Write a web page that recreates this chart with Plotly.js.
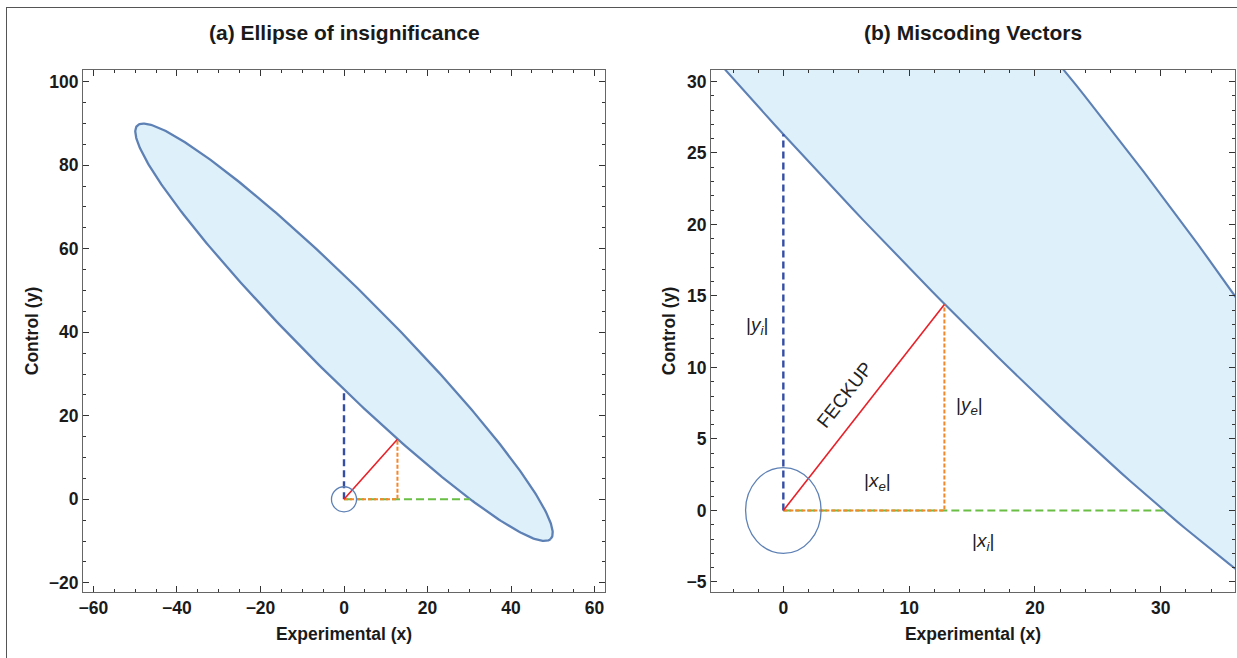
<!DOCTYPE html>
<html>
<head>
<meta charset="utf-8">
<script src="https://cdn.plot.ly/plotly-3.0.1.min.js"></script>
<style>
  html, body { margin:0; padding:0; background:#fff; }
  #wrap { position:relative; width:1237px; height:658px; }
  #plot { position:absolute; left:0; top:0; width:1237px; height:658px; }
  #frame { position:absolute; left:6px; top:7px; right:0; bottom:0;
           border-left:1px solid #555; border-top:1px solid #555; pointer-events:none; }
</style>
</head>
<body>
<div id="wrap"><div id="plot"></div><div id="frame"></div></div>
<script>
// ---- values ----
const ellipseCenter = [0, 40];          // centre of the ellipse of insignificance
const ellipseSemiAxes = [70, 9.78];     // semi-major, semi-minor
const ellipseAngleDeg = -45;            // orientation of the major axis
const circleRadius = 3;                 // small circle round the origin
const feckupPoint = [12.8, 14.4];       // nearest point of the ellipse (FECKUP vector tip)
const yInterceptPoint = [0, 26.3];      // |y_i|
const xInterceptPoint = [30.2, 0];      // |x_i|
const originPoint = [0, 0];

const panelTitles = ['(a) Ellipse of insignificance', '(b) Miscoding Vectors'];
const xAxisTitle = 'Experimental (x)';
const yAxisTitle = 'Control (y)';
const labelTexts = ['|<i>y<sub>i</sub></i>|', '|<i>y<sub>e</sub></i>|', '|<i>x<sub>e</sub></i>|', '|<i>x<sub>i</sub></i>|', 'FECKUP'];
const labelX = [-2.1, 14.8, 7.5, 15.9, 4.9];
const labelY = [12.9, 7.3, 2.0, -2.2, 8.1];

// ---- build ellipse outline from its parameters ----
function ellipseOutline(c, ax, angDeg, n) {
  const a = angDeg * Math.PI / 180, xs = [], ys = [];
  for (let i = 0; i <= n; i++) {
    const t = 2 * Math.PI * i / n;
    const u = ax[0] * Math.cos(t), v = ax[1] * Math.sin(t);
    xs.push(c[0] + u * Math.cos(a) - v * Math.sin(a));
    ys.push(c[1] + u * Math.sin(a) + v * Math.cos(a));
  }
  return [xs, ys];
}
const [ex, ey] = ellipseOutline(ellipseCenter, ellipseSemiAxes, ellipseAngleDeg, 400);

const C = {
  ellLine: 'rgb(94,129,181)', ellFill: 'rgb(222,240,250)',
  blue: 'rgb(52,78,165)', red: 'rgb(232,32,40)', orange: 'rgb(245,135,40)', green: 'rgb(106,190,68)'
};
const FONT = 'Liberation Sans, Arial, Helvetica, sans-serif';

function panelTraces(xa, ya, lw) {
  return [
    { x: ex, y: ey, xaxis: xa, yaxis: ya, mode: 'lines', fill: 'toself', fillcolor: C.ellFill,
      line: { color: C.ellLine, width: lw }, hoverinfo: 'skip' },
    { x: [originPoint[0], xInterceptPoint[0]], y: [originPoint[1], xInterceptPoint[1]], xaxis: xa, yaxis: ya,
      mode: 'lines', line: { color: C.green, width: 2, dash: '8px,4px' } },
    { x: [originPoint[0], yInterceptPoint[0]], y: [originPoint[1], yInterceptPoint[1]], xaxis: xa, yaxis: ya,
      mode: 'lines', line: { color: C.blue, width: 2.4, dash: '7px,4px' } },
    { x: [originPoint[0], feckupPoint[0], feckupPoint[0]], y: [originPoint[1], originPoint[1], feckupPoint[1]],
      xaxis: xa, yaxis: ya, mode: 'lines', line: { color: C.orange, width: 2, dash: '4px,2px' } },
    { x: [originPoint[0], feckupPoint[0]], y: [originPoint[1], feckupPoint[1]], xaxis: xa, yaxis: ya,
      mode: 'lines', line: { color: C.red, width: 1.6 } }
  ];
}
const data = [...panelTraces('x', 'y', 2.3), ...panelTraces('x2', 'y2', 2.1)];

function axis(domain, range, dtick, minor, extra) {
  return Object.assign({
    domain: domain, range: range, tickmode: 'linear', dtick: dtick, tick0: 0,
    ticks: 'inside', ticklen: 6, tickwidth: 1, tickcolor: '#333',
    minor: { dtick: minor, tick0: 0, ticks: 'inside', ticklen: 3, tickwidth: 1, tickcolor: '#333' },
    showline: true, linecolor: '#666', linewidth: 1, mirror: 'allticks',
    showgrid: false, zeroline: false, automargin: false,
    tickfont: { family: FONT, size: 17.5, weight: 'bold', color: '#1a1a1a' },
    fixedrange: true
  }, extra);
}
const W = 1237, H = 658;
const yDom = [(H - 592) / H, (H - 70) / H];
const xDom1 = [83 / W, 605 / W], xDom2 = [711 / W, 1235 / W];
const titleFont = { family: FONT, size: 17.5, weight: 'bold', color: '#1a1a1a' };

const layout = {
  width: W, height: H, margin: { l: 0, r: 0, t: 0, b: 0 },
  paper_bgcolor: '#fff', plot_bgcolor: '#fff', showlegend: false,
  xaxis: axis(xDom1, [-62.5, 62.5], 20, 5, { anchor: 'y', title: { text: xAxisTitle, font: titleFont, standoff: 10 } }),
  yaxis: axis(yDom, [-22.2, 102.8], 20, 5, { anchor: 'x', title: { text: yAxisTitle, font: titleFont, standoff: 5 } }),
  xaxis2: axis(xDom2, [-5.75, 35.9], 10, 2, { anchor: 'y2', title: { text: xAxisTitle, font: titleFont, standoff: 10 } }),
  yaxis2: axis(yDom, [-5.7, 30.8], 5, 1, { anchor: 'x2', title: { text: yAxisTitle, font: titleFont, standoff: 6 } }),
  shapes: [
    { type: 'circle', xref: 'x', yref: 'y', x0: -circleRadius, x1: circleRadius, y0: -circleRadius, y1: circleRadius,
      line: { color: C.ellLine, width: 1.3 } },
    { type: 'circle', xref: 'x2', yref: 'y2', x0: -circleRadius, x1: circleRadius, y0: -circleRadius, y1: circleRadius,
      line: { color: C.ellLine, width: 1.3 } }
  ],
  annotations: [
    { text: panelTitles[0], xref: 'paper', yref: 'paper', x: (xDom1[0] + xDom1[1]) / 2, y: (H - 32) / H,
      showarrow: false, xanchor: 'center', yanchor: 'middle', font: { family: FONT, size: 21, weight: 'bold', color: '#1a1a1a' } },
    { text: panelTitles[1], xref: 'paper', yref: 'paper', x: (xDom2[0] + xDom2[1]) / 2, y: (H - 32) / H,
      showarrow: false, xanchor: 'center', yanchor: 'middle', font: { family: FONT, size: 21, weight: 'bold', color: '#1a1a1a' } }
  ].concat(labelTexts.map((t, i) => ({
    text: t, xref: 'x2', yref: 'y2', x: labelX[i], y: labelY[i], showarrow: false,
    xanchor: 'center', yanchor: 'middle', textangle: i === 4 ? -52 : 0,
    font: { family: FONT, size: 19, color: '#222' }
  })))
};
Plotly.newPlot('plot', data, layout, { staticPlot: true, displayModeBar: false });
</script>
</body>
</html>
